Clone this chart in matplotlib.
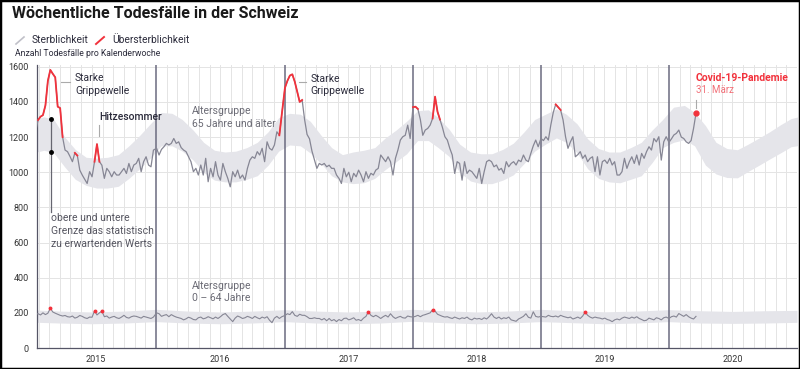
import pandas as pd
import matplotlib
matplotlib.use('Agg')
import matplotlib.pyplot as plt
import numpy as np
from matplotlib.lines import Line2D
from matplotlib.patches import Rectangle

plt.rcParams['font.family'] = ['Roboto', 'DejaVu Sans']

# ================= Daten =================
# Altersgruppe 65+ (wöchentlich), 2015 ab KW 3
OLD_2015 = [1230, 1297, 1316, 1325, 1380, 1520, 1582, 1560, 1540, 1373, 1365, 1200, 1126, 1117,
            1090, 1060, 1110, 1095, 1012, 984, 960, 936, 1003, 974, 1060, 1160, 1060, 1040, 965,
            1022, 1003, 974, 1003, 984, 984, 1003, 1022, 993, 1050, 1003, 1041, 1050, 1079, 1003,
            1060, 1088, 1041, 1031, 1126]
OLD_2016 = [1136, 1098, 1130, 1145, 1164, 1155, 1164, 1192, 1164, 1173, 1140, 1126, 1117, 1088,
            1060, 1003, 1022, 984, 1041, 984, 1079, 946, 1022, 974, 1060, 984, 955, 1050, 1003,
            965, 917, 1003, 974, 1012, 965, 984, 955, 1022, 1069, 1088, 1079, 1117, 1098, 1136,
            1060, 1173, 1136, 1126, 1155, 1230, 1210, 1330]
OLD_2017 = [1480, 1520, 1550, 1557, 1515, 1458, 1400, 1411, 1300, 1215, 1190, 1120, 1070, 1022,
            1050, 1041, 1050, 1031, 1040, 1022, 1022, 984, 965, 936, 1022, 974, 1000, 946, 994,
            974, 1012, 984, 946, 1003, 965, 994, 984, 1012, 1022, 1098, 1079, 1060, 1088, 1060,
            984, 1079, 1126, 1183, 1202, 1210, 1268, 1192]
OLD_2018 = [1370, 1373, 1360, 1300, 1210, 1240, 1249, 1268, 1306, 1430, 1344, 1300, 1255, 1202,
            1183, 1136, 1098, 993, 1060, 1050, 955, 1060, 993, 1012, 1003, 984, 965, 1022, 936,
            1003, 1060, 1069, 1060, 1031, 1041, 1012, 1022, 993, 1060, 1031, 1050, 1060, 1041,
            1069, 1060, 1098, 1069, 1060, 1107, 1150, 1183, 1145]
OLD_2019 = [1192, 1180, 1202, 1183, 1268, 1340, 1386, 1370, 1354, 1297, 1202, 1136, 1173, 1202,
            1088, 1100, 1117, 1079, 1098, 1060, 1079, 1088, 1003, 1088, 984, 1060, 1069, 1050,
            1079, 1041, 1060, 984, 984, 1003, 1079, 1022, 1060, 1088, 1050, 1098, 1041, 1107,
            1079, 1117, 1145, 1126, 1192, 1173, 1202, 1069, 1173, 1202]
OLD_2020 = [1170, 1190, 1212, 1221, 1240, 1200, 1192, 1173, 1164, 1180, 1249, 1335]

# Altersgruppe 0-64 (wöchentlich)
YOUNG_2015 = [192, 195, 188, 200, 190, 198, 226, 205, 198, 192, 186, 182, 185, 178, 176, 182, 170,
              175, 185, 180, 172, 168, 176, 175, 212, 188, 200, 210, 178, 182, 170, 176, 180, 172,
              168, 176, 186, 174, 170, 178, 182, 180, 175, 170, 180, 176, 172, 168, 176]
YOUNG_2016 = [200, 195, 180, 186, 190, 178, 190, 182, 176, 172, 168, 160, 166, 175, 170, 162, 160,
              172, 176, 166, 170, 178, 172, 166, 176, 168, 178, 190, 196, 180, 165, 150, 170, 182,
              176, 168, 172, 180, 175, 168, 180, 172, 166, 176, 170, 178, 158, 144, 170, 180, 168, 178]
YOUNG_2017 = [185, 195, 190, 207, 186, 180, 192, 186, 186, 178, 168, 168, 172, 168, 168, 160, 168,
              155, 168, 155, 162, 150, 162, 155, 168, 170, 160, 165, 172, 158, 162, 155, 170, 180,
              207, 186, 178, 186, 178, 168, 178, 186, 176, 195, 178, 168, 175, 180, 172, 170, 182, 178]
YOUNG_2018 = [176, 180, 186, 178, 186, 190, 195, 200, 218, 210, 192, 186, 180, 176, 178, 172, 168,
              176, 170, 165, 172, 168, 176, 165, 160, 170, 165, 168, 162, 172, 165, 178, 195, 176,
              168, 176, 165, 172, 168, 176, 160, 156, 152, 165, 172, 180, 195, 175, 170, 206, 180, 176]
YOUNG_2019 = [180, 178, 176, 186, 180, 178, 182, 176, 186, 180, 176, 172, 176, 165, 170, 176, 168,
              182, 205, 186, 176, 170, 176, 172, 170, 165, 170, 162, 158, 150, 160, 165, 160, 170,
              176, 172, 168, 176, 170, 178, 168, 162, 155, 158, 170, 165, 160, 172, 168, 160, 172, 176]
YOUNG_2020 = [168, 178, 182, 176, 196, 188, 180, 190, 178, 170, 165, 180]

# erwarteter Bereich 65+ (monatlich, Monatsmitte 2015-01 .. 2021-01)
OLD_HI = [1300, 1315, 1300, 1200, 1130, 1085, 1080, 1085, 1100, 1150, 1210, 1275,
          1340, 1335, 1300, 1240, 1170, 1125, 1115, 1120, 1140, 1170, 1230, 1310,
          1335, 1330, 1290, 1210, 1140, 1100, 1115, 1125, 1140, 1195, 1240, 1290,
          1350, 1355, 1310, 1245, 1160, 1115, 1105, 1105, 1130, 1165, 1230, 1300,
          1330, 1360, 1330, 1275, 1190, 1135, 1115, 1115, 1140, 1170, 1240, 1300,
          1370, 1380, 1340, 1265, 1170, 1135, 1128, 1160, 1195, 1230, 1270, 1305, 1320]
OLD_LO = [1110, 1125, 1110, 1030, 960, 925, 910, 910, 920, 965, 1020, 1080,
          1150, 1150, 1120, 1070, 1000, 955, 945, 945, 960, 980, 1040, 1120,
          1155, 1150, 1110, 1050, 980, 945, 935, 940, 965, 1015, 1060, 1105,
          1180, 1180, 1140, 1090, 1000, 950, 935, 935, 955, 985, 1050, 1120,
          1160, 1195, 1170, 1110, 1020, 965, 945, 940, 960, 980, 1055, 1140,
          1170, 1185, 1150, 1040, 990, 970, 968, 1005, 1040, 1075, 1110, 1145, 1155]

# erwarteter Bereich 0-64 (quartalsweise 2015-01 .. 2021-01)
YOUNG_HI = [218, 210, 205, 210, 220, 210, 205, 210, 218, 210, 205, 210, 220,
            212, 205, 210, 220, 212, 206, 210, 218, 212, 208, 212, 214]
YOUNG_LO = [148, 142, 138, 142, 150, 142, 138, 142, 150, 142, 138, 142, 152,
            144, 138, 142, 150, 144, 138, 142, 150, 142, 140, 142, 146]

# Übersterblichkeit (Zeiträume über dem erwarteten Bereich)
RED_OLD = [('2015-01-28', '2015-04-10'), ('2015-05-13', '2015-05-22'), ('2015-07-08', '2015-07-24'),
           ('2016-12-15', '2017-02-21'), ('2017-12-31', '2018-01-17'), ('2018-02-26', '2018-03-21'),
           ('2019-02-12', '2019-02-28')]
RED_YOUNG = ['2015-03-05', '2015-07-09', '2015-07-30', '2017-08-28', '2018-02-27', '2019-05-08']

YEARS = ['2015', '2016', '2017', '2018', '2019', '2020']
YEAR_LABEL_POS = ['2015-07-13', '2016-07-01', '2017-07-02', '2018-07-02', '2019-07-02', '2020-07-01']
# =========================================

GRAY = '#868694'
RED = '#f2323c'
BAND = '#e5e5ea'
DARK = '#2b2b3b'


def weekly(values, start):
    return pd.Series(values, index=pd.date_range(start, periods=len(values), freq='7D'))


old = pd.concat([weekly(OLD_2015, '2015-01-22'), weekly(OLD_2016, '2016-01-02'),
                 weekly(OLD_2017, '2017-01-02'), weekly(OLD_2018, '2018-01-02'),
                 weekly(OLD_2019, '2019-01-02'), weekly(OLD_2020, '2020-01-02')])
young = pd.concat([weekly(YOUNG_2015, '2015-01-22'), weekly(YOUNG_2016, '2016-01-02'),
                   weekly(YOUNG_2017, '2017-01-02'), weekly(YOUNG_2018, '2018-01-02'),
                   weekly(YOUNG_2019, '2019-01-02'), weekly(YOUNG_2020, '2020-01-02')])
band_dates = pd.date_range('2015-01-01', periods=len(OLD_HI), freq='MS') + pd.Timedelta(days=14)
young_band_dates = pd.date_range('2015-01-01', periods=len(YOUNG_HI), freq='QS')

fig = plt.figure(figsize=(8, 3.69), dpi=100)
ax = fig.add_axes([37 / 800, 21 / 369, 760 / 800, 283 / 369])

# Gitter
for d in pd.date_range('2015-02-01', '2020-12-01', freq='MS'):
    if d.month != 1:
        ax.axvline(d, color='#e4e4e4', lw=0.7, zorder=0)
ax.yaxis.grid(True, color='#e4e4e4', lw=0.7)
ax.set_axisbelow(True)

# Bänder
ax.fill_between(band_dates, OLD_LO, OLD_HI, color=BAND, lw=0, zorder=1)
ax.fill_between(young_band_dates, YOUNG_LO, YOUNG_HI, color=BAND, lw=0, zorder=1)

for y in range(2016, 2021):
    ax.axvline(pd.Timestamp(f'{y}-01-01'), color='#6b6b80', lw=1.1, zorder=2)

# Linien
ax.plot(old.index, old.values, color=GRAY, lw=0.9, zorder=3)
for a, b in RED_OLD:
    seg = old.loc[a:b]
    ax.plot(seg.index, seg.values, color=RED, lw=1.3, zorder=4)
ax.plot(old.index[-1], old.values[-1], 'o', color=RED, ms=3.5, zorder=5)

ax.plot(young.index, young.values, color=GRAY, lw=0.8, zorder=3)
for d in RED_YOUNG:
    ax.plot(pd.Timestamp(d), young.loc[d], 'o', color=RED, ms=1.8, zorder=4)

# Achsen
ax.set_xlim(pd.Timestamp('2015-01-26'), pd.Timestamp('2021-01-01'))
ax.set_ylim(0, 1610)
ax.set_yticks(range(0, 1601, 200))
ax.set_xticks([pd.Timestamp(d) for d in YEAR_LABEL_POS])
ax.set_xticklabels(YEARS)
ax.tick_params(axis='both', length=0, labelsize=6.5, colors='#333333')
ax.tick_params(axis='y', pad=6)
ax.tick_params(axis='x', pad=5)
for s in ['top', 'right']:
    ax.spines[s].set_visible(False)
for s in ['left', 'bottom']:
    ax.spines[s].set_color('#555566')
    ax.spines[s].set_linewidth(0.9)

# Annotationen
ts = pd.Timestamp
ax.text(ts('2015-05-14'), 1500, 'Starke\nGrippewelle', fontsize=7.5, color=DARK, va='center',
        linespacing=1.3)
ax.plot([ts('2015-04-05'), ts('2015-04-30')], [1515, 1515], color='#aaaaaa', lw=0.8)
ax.text(ts('2017-03-16'), 1495, 'Starke\nGrippewelle', fontsize=7.5, color=DARK, va='center',
        linespacing=1.3)
ax.plot([ts('2017-02-10'), ts('2017-03-03')], [1513, 1513], color='#aaaaaa', lw=0.8)
ax.text(ts('2015-07-22'), 1317, 'Hitzesommer', fontsize=7.5, color=DARK, va='center',
        fontweight='medium')
ax.plot([ts('2015-07-22'), ts('2015-07-22')], [1205, 1270], color='#aaaaaa', lw=0.8)
ax.text(ts('2016-04-12'), 1312, 'Altersgruppe\n65 Jahre und älter', fontsize=7.5, color='#6b6b75',
        va='center', linespacing=1.3)
ax.text(ts('2016-04-12'), 319, 'Altersgruppe\n0 – 64 Jahre', fontsize=7.5, color='#6b6b75',
        va='center', linespacing=1.3)
ax.text(ts('2015-03-07'), 666, 'obere und untere\nGrenze das statistisch\nzu erwartenden Werts',
        fontsize=7.5, color='#555560', va='center', linespacing=1.35)
mark = ts('2015-03-06')
bx = matplotlib.dates.date2num(band_dates)
hi = np.interp(matplotlib.dates.date2num(mark), bx, OLD_HI)
lo = np.interp(matplotlib.dates.date2num(mark), bx, OLD_LO)
ax.plot([mark, mark], [775, hi], color='#666670', lw=0.9, zorder=5)
ax.plot([mark, mark], [hi, lo], 'o', color='black', ms=2.5, zorder=6)
ax.text(ts('2020-03-19'), 1538, 'Covid-19-Pandemie', fontsize=7.5, color=RED, va='center',
        fontweight='bold')
ax.text(ts('2020-03-19'), 1469, '31. März', fontsize=7, color='#f27078', va='center')
ax.plot([old.index[-1], old.index[-1]], [1367, 1412], color='#aaaaaa', lw=0.8)

# Titel, Legende
fig.text(12 / 800, 1 - 13 / 369, 'Wöchentliche Todesfälle in der Schweiz', fontsize=11.5,
         fontweight='bold', color='#1a1a1a', va='center')
fig.add_artist(Line2D([16 / 800, 24 / 800], [1 - 44 / 369, 1 - 37 / 369], color='#c0c0c8', lw=1.2))
fig.text(32 / 800, 1 - 40 / 369, 'Sterblichkeit', fontsize=7.4, color=DARK, va='center')
fig.add_artist(Line2D([96 / 800, 104 / 800], [1 - 44 / 369, 1 - 37 / 369], color=RED, lw=1.4))
fig.text(112 / 800, 1 - 40 / 369, 'Übersterblichkeit', fontsize=7.4, color=DARK, va='center')
fig.text(15 / 800, 1 - 54 / 369, 'Anzahl Todesfälle pro Kalenderwoche', fontsize=6.2,
         color=DARK, va='center')

fig.add_artist(Rectangle((0, 0), 1, 1, transform=fig.transFigure, fill=False, ec='black', lw=2.5))

fig.savefig('out.png', dpi=100)
